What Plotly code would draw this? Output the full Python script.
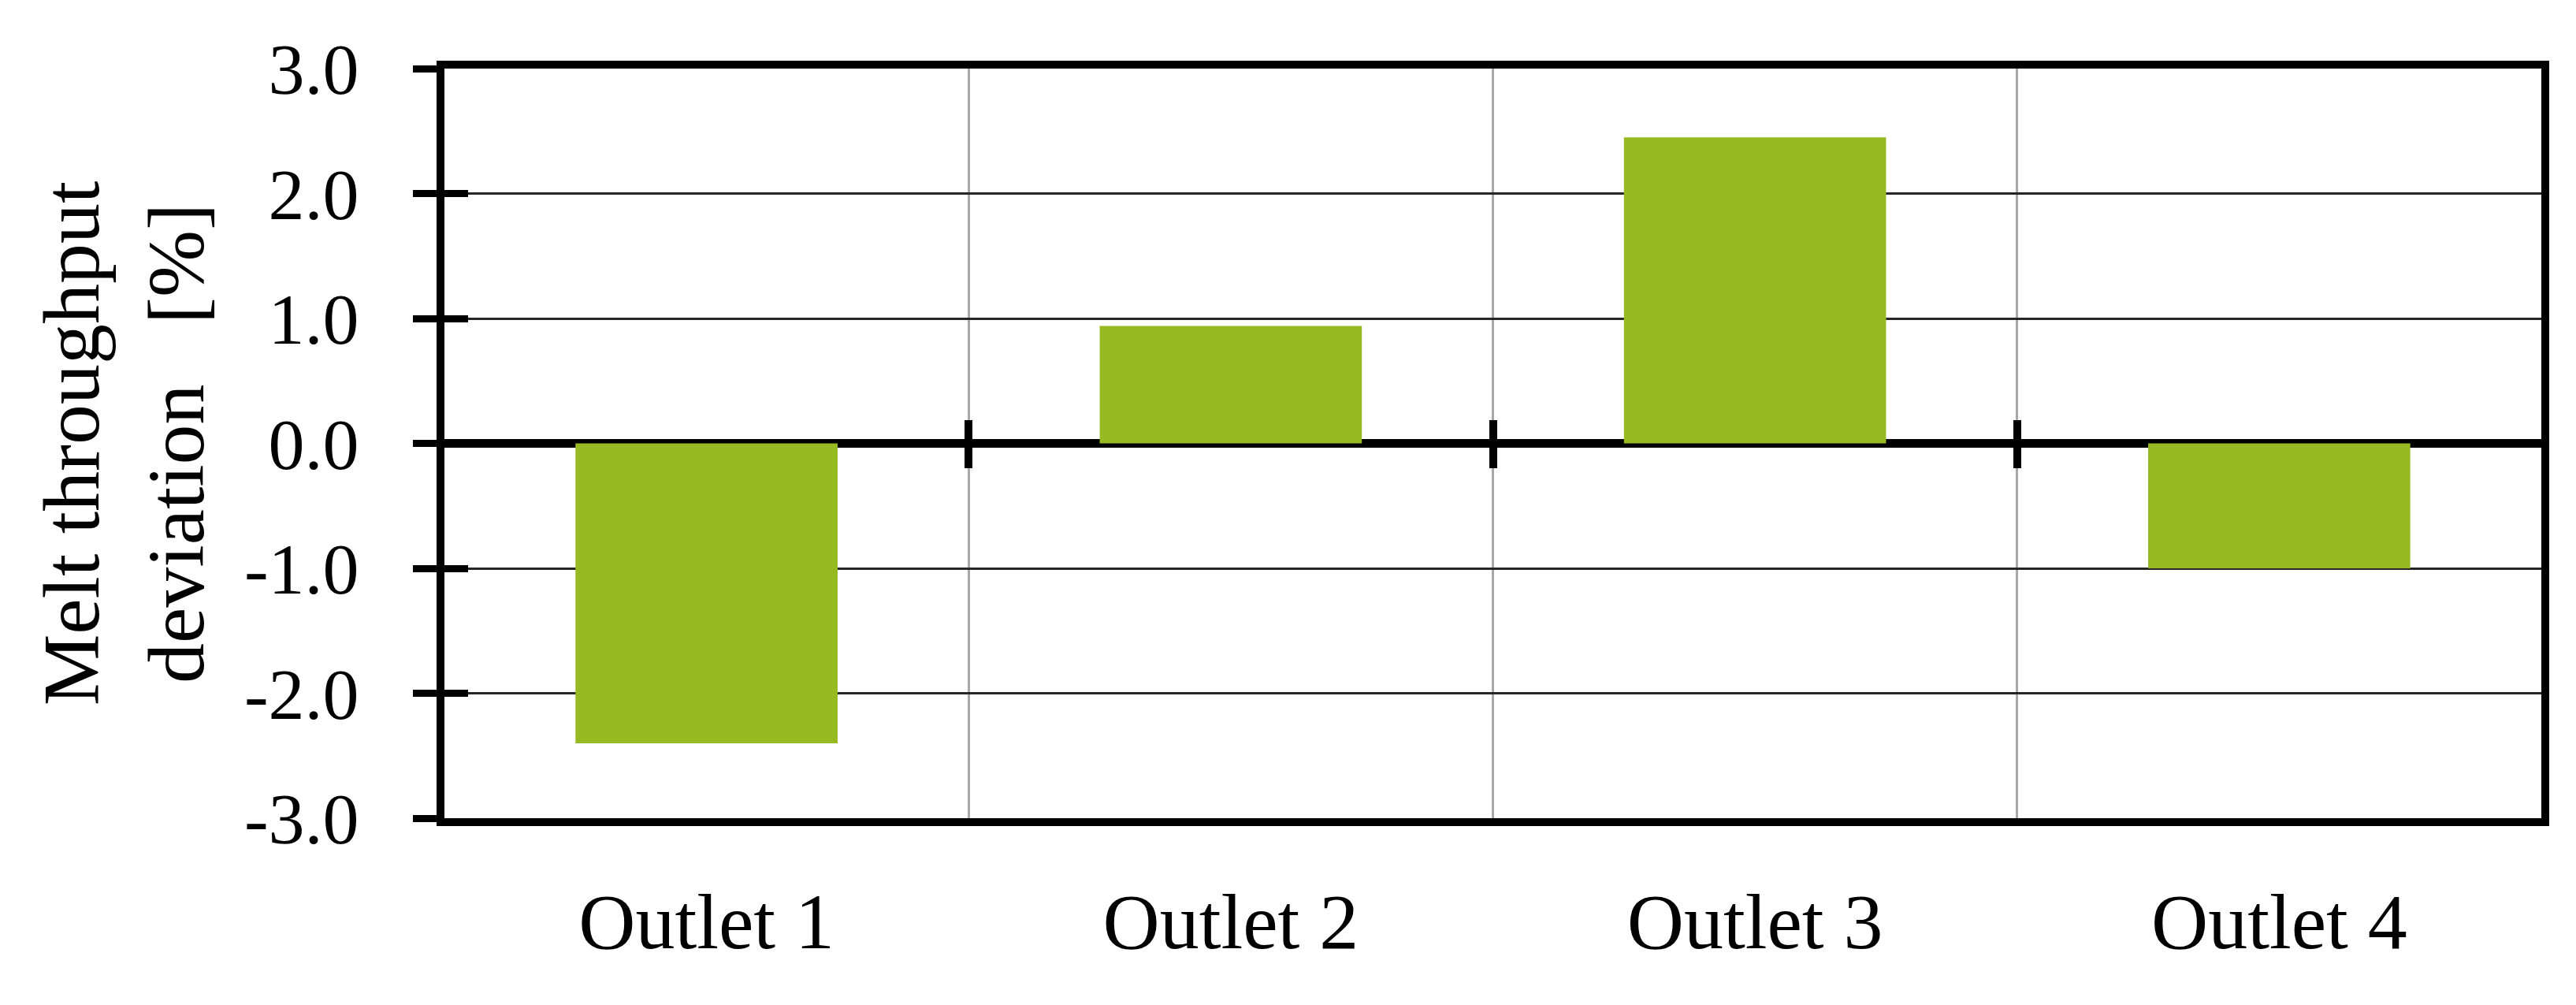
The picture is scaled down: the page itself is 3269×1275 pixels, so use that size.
import plotly.graph_objects as go

outlets = ['Outlet 1', 'Outlet 2', 'Outlet 3', 'Outlet 4']
deviation = [-2.4, 0.94, 2.45, -1.0]

y_ticks = [-3, -2, -1, 0, 1, 2, 3]
y_labels = ['-3.0', '-2.0', '-1.0', '0.0', '1.0', '2.0', '3.0']

# boundaries between the outlets, where the ticks on the zero line sit
bounds = [i + 0.5 for i in range(len(outlets) - 1)]

font = 'Liberation Serif, Times New Roman, serif'

fig = go.Figure()
fig.add_trace(go.Bar(x=outlets, y=deviation, width=0.5,
                     marker=dict(color='#97BA22', line=dict(width=0)),
                     showlegend=False))

# empty helper traces so the overlay axes (crossing ticks) get drawn
for xa, ya in [('x2', 'y'), ('x3', 'y'), ('x', 'y2')]:
    fig.add_trace(go.Scatter(x=[None], y=[None], xaxis=xa, yaxis=ya,
                             mode='markers', showlegend=False, hoverinfo='skip'))

fig.update_layout(
    width=3269, height=1275,
    margin=dict(l=556, r=52, t=79, b=245),
    plot_bgcolor='white', paper_bgcolor='white',
    font=dict(family=font, size=100, color='black'),
    xaxis=dict(type='category', range=[-0.5, 3.5], tickson='boundaries',
               showgrid=True, gridcolor='#a8a8a8', gridwidth=3,
               showline=True, linecolor='black', linewidth=10, mirror=True,
               ticks='', ticklabelstandoff=35,
               tickfont=dict(family=font, size=100)),
    xaxis2=dict(overlaying='x', anchor='free', position=0.5, range=[-0.5, 3.5],
                tickvals=bounds, ticks='outside', ticklen=30, tickwidth=10,
                tickcolor='black', showticklabels=False, showgrid=False,
                zeroline=False, showline=False),
    xaxis3=dict(overlaying='x', anchor='free', position=0.5, range=[-0.5, 3.5],
                tickvals=bounds, ticks='inside', ticklen=30, tickwidth=10,
                tickcolor='black', showticklabels=False, showgrid=False,
                zeroline=False, showline=False),
    yaxis=dict(range=[-3, 3], tickvals=y_ticks, ticktext=y_labels,
               showgrid=True, gridcolor='#262626', gridwidth=3,
               zeroline=True, zerolinecolor='black', zerolinewidth=11,
               showline=True, linecolor='black', linewidth=10, mirror=True,
               ticks='outside', ticklen=30, tickwidth=9, tickcolor='black',
               ticklabelstandoff=50,
               tickfont=dict(family=font, size=92)),
    yaxis2=dict(overlaying='y', range=[-3, 3], anchor='x', side='left',
                tickvals=y_ticks, ticks='inside', ticklen=30, tickwidth=9,
                tickcolor='black', showticklabels=False, showgrid=False,
                zeroline=False, showline=False),
    bargap=0.5,
)

fig.add_annotation(
    text='Melt throughput<br>deviation\u00a0\u00a0\u00a0[%]',
    xref='paper', yref='paper', x=-0.153, y=0.5,
    xanchor='center', yanchor='middle', textangle=-90, showarrow=False,
    font=dict(family=font, size=102, color='black'),
)

fig.write_html('out.html')
